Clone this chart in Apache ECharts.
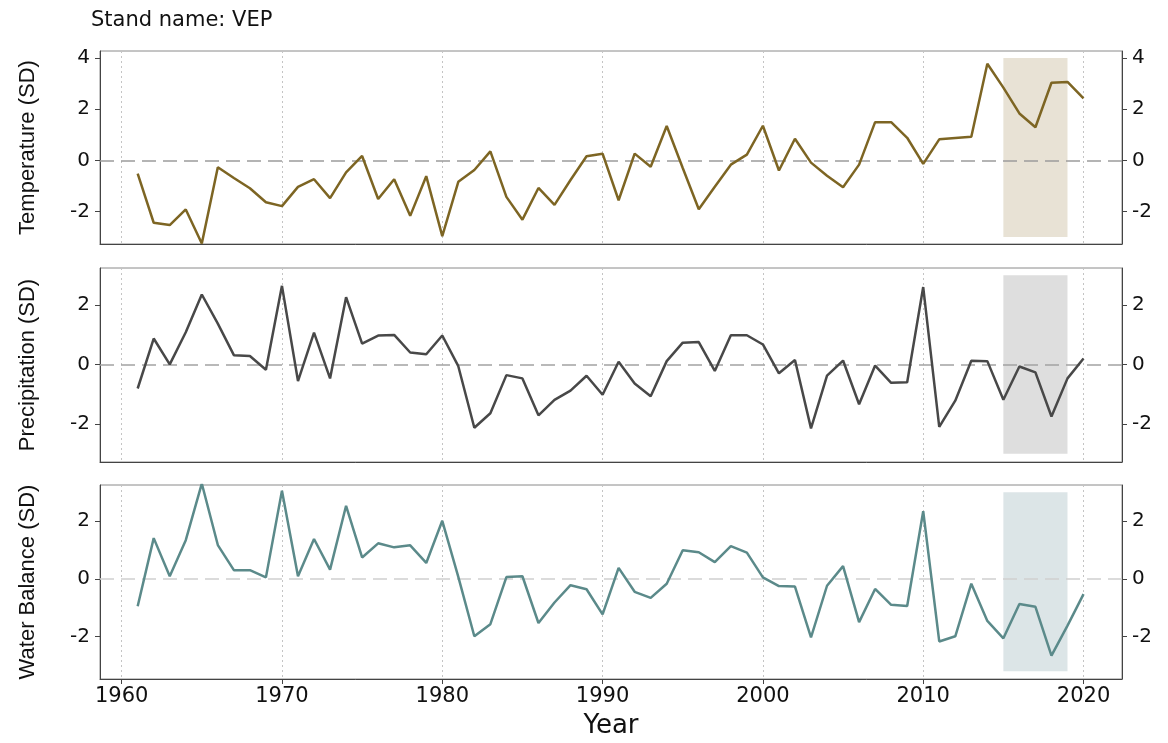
<!DOCTYPE html>
<html>
<head>
<meta charset="utf-8">
<script src="https://cdn.jsdelivr.net/npm/echarts@6/dist/echarts.min.js"></script>
<style>
html,body{margin:0;padding:0;background:#fff;}
#chart{width:1168px;height:743px;}
</style>
</head>
<body>
<div id="chart"></div>
<script>
const years = [];
for (let y = 1961; y <= 2020; y++) years.push(y);

const temperature = [
  -0.52,-2.44,-2.53,-1.92,-3.25,-0.27,-0.69,-1.09,-1.64,-1.79,
  -1.04,-0.74,-1.48,-0.47,0.17,-1.51,-0.74,-2.17,-0.62,-2.96,
  -0.84,-0.38,0.35,-1.43,-2.32,-1.08,-1.74,-0.77,0.16,0.26,
  -1.56,0.26,-0.25,1.34,-0.30,-1.91,-1.03,-0.17,0.22,1.35,
  -0.40,0.84,-0.09,-0.60,-1.05,-0.17,1.49,1.49,0.88,-0.14,
  0.82,0.87,0.92,3.77,2.84,1.83,1.29,3.03,3.06,2.42
];
const precipitation = [
  -0.81,0.87,0.00,1.08,2.35,1.37,0.31,0.28,-0.18,2.64,
  -0.56,1.07,-0.47,2.26,0.70,0.97,0.99,0.40,0.34,0.97,
  -0.06,-2.13,-1.64,-0.36,-0.47,-1.71,-1.19,-0.88,-0.38,-1.02,
  0.09,-0.64,-1.07,0.11,0.73,0.75,-0.22,0.98,0.98,0.67,
  -0.30,0.15,-2.15,-0.38,0.13,-1.34,-0.04,-0.62,-0.60,2.60,
  -2.10,-1.22,0.12,0.11,-1.19,-0.07,-0.27,-1.75,-0.47,0.20
];
const waterBalance = [
  -0.95,1.41,0.09,1.34,3.30,1.17,0.30,0.30,0.05,3.05,
  0.09,1.38,0.32,2.53,0.74,1.23,1.09,1.16,0.55,2.01,
  0.07,-1.99,-1.57,0.06,0.09,-1.53,-0.82,-0.22,-0.36,-1.23,
  0.38,-0.45,-0.66,-0.17,0.99,0.92,0.58,1.13,0.91,0.05,
  -0.25,-0.27,-2.03,-0.24,0.44,-1.50,-0.35,-0.90,-0.94,2.34,
  -2.17,-1.99,-0.17,-1.46,-2.06,-0.87,-0.97,-2.66,-1.62,-0.53
];
const decadeTicks = [1960, 1970, 1980, 1990, 2000, 2010, 2020];
const shadeYears = [2015, 2019];
const panelNames = ['Temperature (SD)', 'Precipitation (SD)', 'Water Balance (SD)'];
const panelTicks = [[-2, 0, 2, 4], [-2, 0, 2], [-2, 0, 2]];
const panelRange = [[-3.27, 4.27], [-3.28, 3.24], [-3.47, 3.25]];
const shadeRange = [[-3, 4], [-3, 3], [-3.2, 3]];
const seriesData = [temperature, precipitation, waterBalance];

const lineColors = ['#7d6523', '#484848', '#5b8a8a'];
const shadeColors = ['#e8e2d5', '#dedede', '#dce5e7'];
const zeroColors = ['#9c9c9c', '#a3a3a3', '#cfcfcf'];
const grids = [
  {top: 51, height: 193},
  {top: 268, height: 194},
  {top: 485, height: 194}
];

const chart = echarts.init(document.getElementById('chart'), null, {renderer: 'canvas'});

const option = {
  backgroundColor: '#ffffff',
  animation: false,
  title: {
    text: 'Stand name: VEP',
    left: 86, top: 5,
    textStyle: {fontFamily: 'DejaVu Sans', fontSize: 21, fontWeight: 'normal', color: '#111'}
  },
  grid: grids.map(g => ({
    left: 100, right: 46, top: g.top, height: g.height,
    show: true, borderColor: '#8a8a8a', borderWidth: 1, backgroundColor: 'transparent'
  })),
  xAxis: grids.map((g, i) => ({
    type: 'value', gridIndex: i,
    min: 1958.65, max: 2022.4,
    axisLine: {show: true, onZero: false, lineStyle: {color: '#444', width: 1}},
    axisTick: {show: i === 2, customValues: decadeTicks, length: 5, lineStyle: {color: '#444'}},
    axisLabel: {show: i === 2, customValues: decadeTicks, margin: 7,
      formatter: v => String(v),
      fontFamily: 'DejaVu Sans', fontSize: 21, color: '#111'},
    splitLine: {show: true, lineStyle: {type: [2, 3], color: '#c4c4c4', width: 1}},
    name: i === 2 ? 'Year' : '',
    nameLocation: 'middle', nameGap: 34,
    nameTextStyle: {fontFamily: 'DejaVu Sans', fontSize: 26, color: '#111'}
  })),
  yAxis: [],
  series: []
};

grids.forEach((g, i) => {
  const base = {
    type: 'value', gridIndex: i,
    min: panelRange[i][0], max: panelRange[i][1],
    splitLine: {show: false},
    axisLine: {show: true, lineStyle: {color: '#444', width: 1}},
    axisTick: {show: true, customValues: panelTicks[i], length: 5, lineStyle: {color: '#444'}},
    axisLabel: {show: true, customValues: panelTicks[i], margin: 10,
      fontFamily: 'DejaVu Sans', fontSize: 20, color: '#111'}
  };
  option.yAxis.push(Object.assign({}, base, {
    position: 'left',
    name: panelNames[i], nameLocation: 'middle', nameRotate: 90, nameGap: 61,
    nameTextStyle: {fontFamily: 'Liberation Sans', fontSize: 22, color: '#111'}
  }));
  option.yAxis.push(Object.assign({}, base, {position: 'right'}));

  option.series.push({
    type: 'line',
    xAxisIndex: i, yAxisIndex: 2 * i,
    data: years.map((y, k) => [y, seriesData[i][k]]),
    showSymbol: false, symbol: 'none',
    lineStyle: {color: lineColors[i], width: 2.5},
    z: 5,
    markArea: {
      silent: true,
      itemStyle: {color: shadeColors[i], opacity: 1},
      data: [[{coord: [shadeYears[0], shadeRange[i][0]]}, {coord: [shadeYears[1], shadeRange[i][1]]}]]
    },
    markLine: {
      silent: true, symbol: 'none', label: {show: false},
      lineStyle: {type: [14, 7], color: zeroColors[i], width: 1.6},
      data: [{yAxis: 0}]
    }
  });
});

chart.setOption(option);
</script>
</body>
</html>
